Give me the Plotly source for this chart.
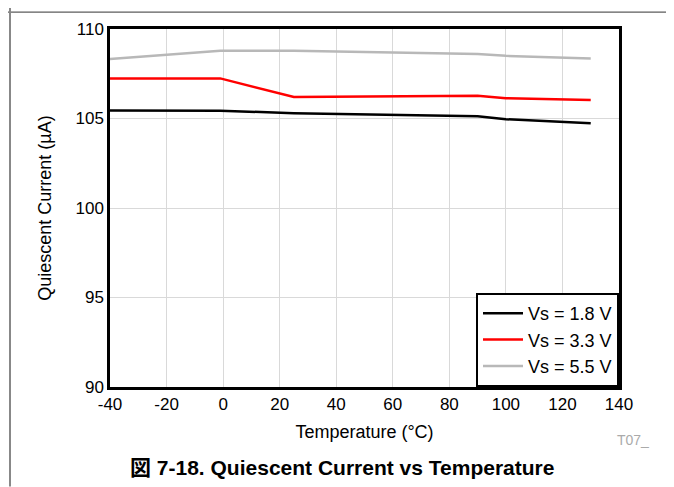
import plotly.graph_objects as go

temps = [-40, -1, 25, 90, 100, 130]
vs18 = [105.44, 105.43, 105.30, 105.13, 104.96, 104.74]
vs33 = [107.24, 107.24, 106.20, 106.27, 106.13, 106.04]
vs55 = [108.32, 108.78, 108.78, 108.61, 108.50, 108.35]
names = ["Vs = 1.8 V", "Vs = 3.3 V", "Vs = 5.5 V"]
colors = ["#000000", "#ff0000", "#b8b8b8"]
xticks = [-40, -20, 0, 20, 40, 60, 80, 100, 120, 140]
xticklabels = ["-40", "-20", "0", "20", "40", "60", "80", "100", "120", "140"]
yticks = [90, 95, 100, 105, 110]

font = "Arial, Liberation Sans, Helvetica, sans-serif"
fig = go.Figure()
for ys, n, c in zip([vs18, vs33, vs55], names, colors):
    fig.add_trace(go.Scatter(x=temps, y=ys, mode="lines", name=n,
                             line=dict(color=c, width=2.5)))

OFF = 8  # page body margin
W, H = 674 - OFF, 487 - OFF
L, T = 110 - OFF, 27 - OFF
R = W - (619 - OFF)
B = H - (387 - OFF)
pw, ph = W - L - R, H - T - B
def px(x): return (x - OFF - L) / pw
def py(y): return (H - B - (y - OFF)) / ph

fig.update_layout(
    width=W, height=H, margin=dict(l=L, r=R, t=T, b=B),
    paper_bgcolor="white", plot_bgcolor="white",
    font=dict(family=font, size=17, color="black"),
    showlegend=True,
    legend=dict(x=1, y=0, xanchor="right", yanchor="bottom",
                bordercolor="black", borderwidth=2, bgcolor="white",
                font=dict(size=18), tracegroupgap=0, itemwidth=40),
    xaxis=dict(range=[-40, 140], tickvals=xticks, ticktext=xticklabels,
               showgrid=True, gridcolor="#d9d9d9",
               zeroline=False, showline=True, linecolor="black", linewidth=2.5, mirror=True,
               ticks="", title=dict(text="Temperature (°C)", standoff=13, font=dict(size=18))),
    yaxis=dict(range=[90, 110], tickvals=yticks, showgrid=True, gridcolor="#d9d9d9",
               zeroline=False, showline=True, linecolor="black", linewidth=2.5, mirror=True,
               ticks="", title=dict(text="Quiescent Current (µA)", standoff=20, font=dict(size=18))),
    shapes=[
        dict(type="line", xref="paper", yref="paper", x0=px(0), x1=px(674), y0=py(10), y1=py(10),
             line=dict(color="#333333", width=1)),
        dict(type="line", xref="paper", yref="paper", x0=px(10), x1=px(10), y0=py(0), y1=py(487),
             line=dict(color="#888888", width=2)),
    ],
    annotations=[
        dict(text="<b>図 7-18. Quiescent Current vs Temperature</b>", xref="paper", yref="paper",
             x=px(342), y=py(468), xanchor="center", yanchor="middle", showarrow=False,
             font=dict(size=21, family=font + ", Noto Sans CJK JP")),
        dict(text="T07_", xref="paper", yref="paper", x=px(633), y=py(440),
             xanchor="center", yanchor="middle", showarrow=False,
             font=dict(size=14, color="#aaaaaa")),
    ],
)
fig.write_html("out.html")
